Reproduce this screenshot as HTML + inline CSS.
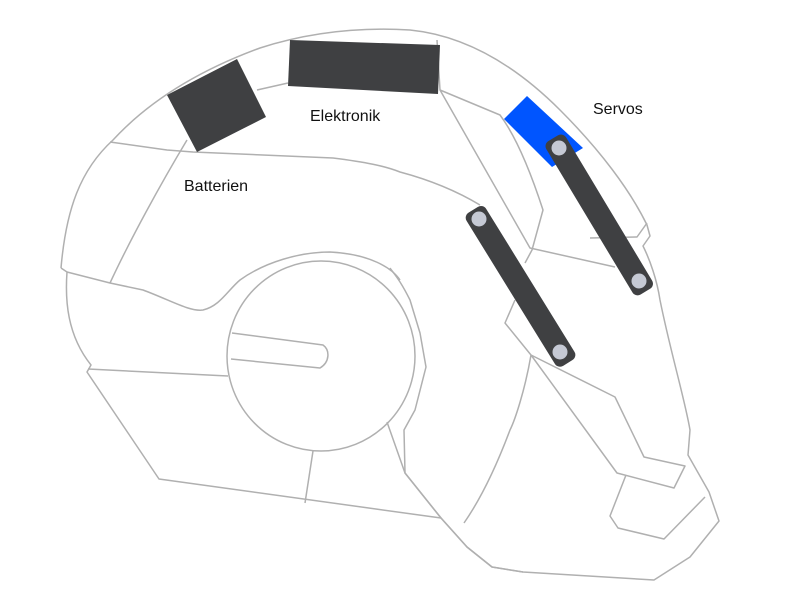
<!DOCTYPE html>
<html><head><meta charset="utf-8"><style>
html,body{margin:0;padding:0;background:#fff;width:800px;height:599px;overflow:hidden}
svg{display:block}
text{font-family:"Liberation Sans",sans-serif;font-size:16px;fill:#111}
</style></head><body>
<svg width="800" height="599" viewBox="0 0 800 599" xmlns="http://www.w3.org/2000/svg">
<g fill="none" stroke="#b0b0b0" stroke-width="1.5" stroke-linejoin="round">
<path d="M61,268 C66,210 80,170 113,140 C150,100 200,70 260,48 C310,32 360,27 410,30 C470,36 520,70 560,110 C600,150 630,190 647,225 L650,236 L643,246 C650,260 657,280 660,300 C670,350 685,400 690,430 L688,455 L709,492 L719,521 L690,557 L654,580 L523,572 L492,567 L467,547 L441,518 L405,473 L404,430 L415,410 L426,367 L420,333 L410,300 C400,280 395,275 390,268"/>
<path d="M61,268 L67,272 C65,300 67,335 91,365 L87,372 L159,479 L441,518"/>
<path d="M88,369 L228,376"/>
<path d="M67,272 L110,283 L143,290 C170,300 190,312 203,310 C220,306 228,290 240,280 C265,262 300,252 330,252 C370,254 392,268 400,280"/>
<ellipse cx="321" cy="356" rx="94" ry="95"/>
<path d="M232,333 L323,345 C330,350 330,362 320,368 L231,359"/>
<path d="M313,451 L305,503"/>
<path d="M387,422 L405,473 L441,518 L467,547 L492,567 L523,572"/>
<path d="M110,142 L167,150 L193,152 L333,158 C365,162 385,166 400,172 C430,180 455,190 480,205"/>
<path d="M187,140 C160,185 130,240 110,283"/>
<path d="M257,90 L288,83"/>
<path d="M437,40 L440,90 L500,115 C515,135 530,170 543,210 L532,250 L525,263"/>
<path d="M440,90 L530,248 L615,267"/>
<path d="M590,238 L637,237 L647,223"/>
<path d="M531,355 L505,323 L515,300"/>
<path d="M531,355 L615,397 L644,457 L685,466 L674,488 L617,473 L531,355"/>
<path d="M531,355 C525,390 515,420 510,430 C495,470 480,500 464,523"/>
<path d="M626,475 L610,516 L618,528 L664,539 L705,497"/>
</g>
<polygon points="167,95 237,59 266,117 197,152" fill="#3f4042"/>
<polygon points="290,40 440,45 438,94 288,86" fill="#3f4042"/>
<polygon points="527,96 583,148 552,167 504,119" fill="#0055ff"/>
<g fill="#3f4042">
<rect x="510" y="203" width="179" height="23" rx="6" transform="rotate(59 599 214.5)"/>
<rect x="431" y="274" width="180" height="23" rx="6" transform="rotate(58.3 520 285.5)"/>
</g>
<g fill="#c5c9d4">
<circle cx="559" cy="148" r="7.5"/><circle cx="639" cy="281" r="7.5"/>
<circle cx="479" cy="219" r="7.5"/><circle cx="560" cy="352" r="7.5"/>
</g>
<text x="310" y="121">Elektronik</text>
<text x="184" y="191">Batterien</text>
<text x="593" y="114">Servos</text>
</svg>
</body></html>
